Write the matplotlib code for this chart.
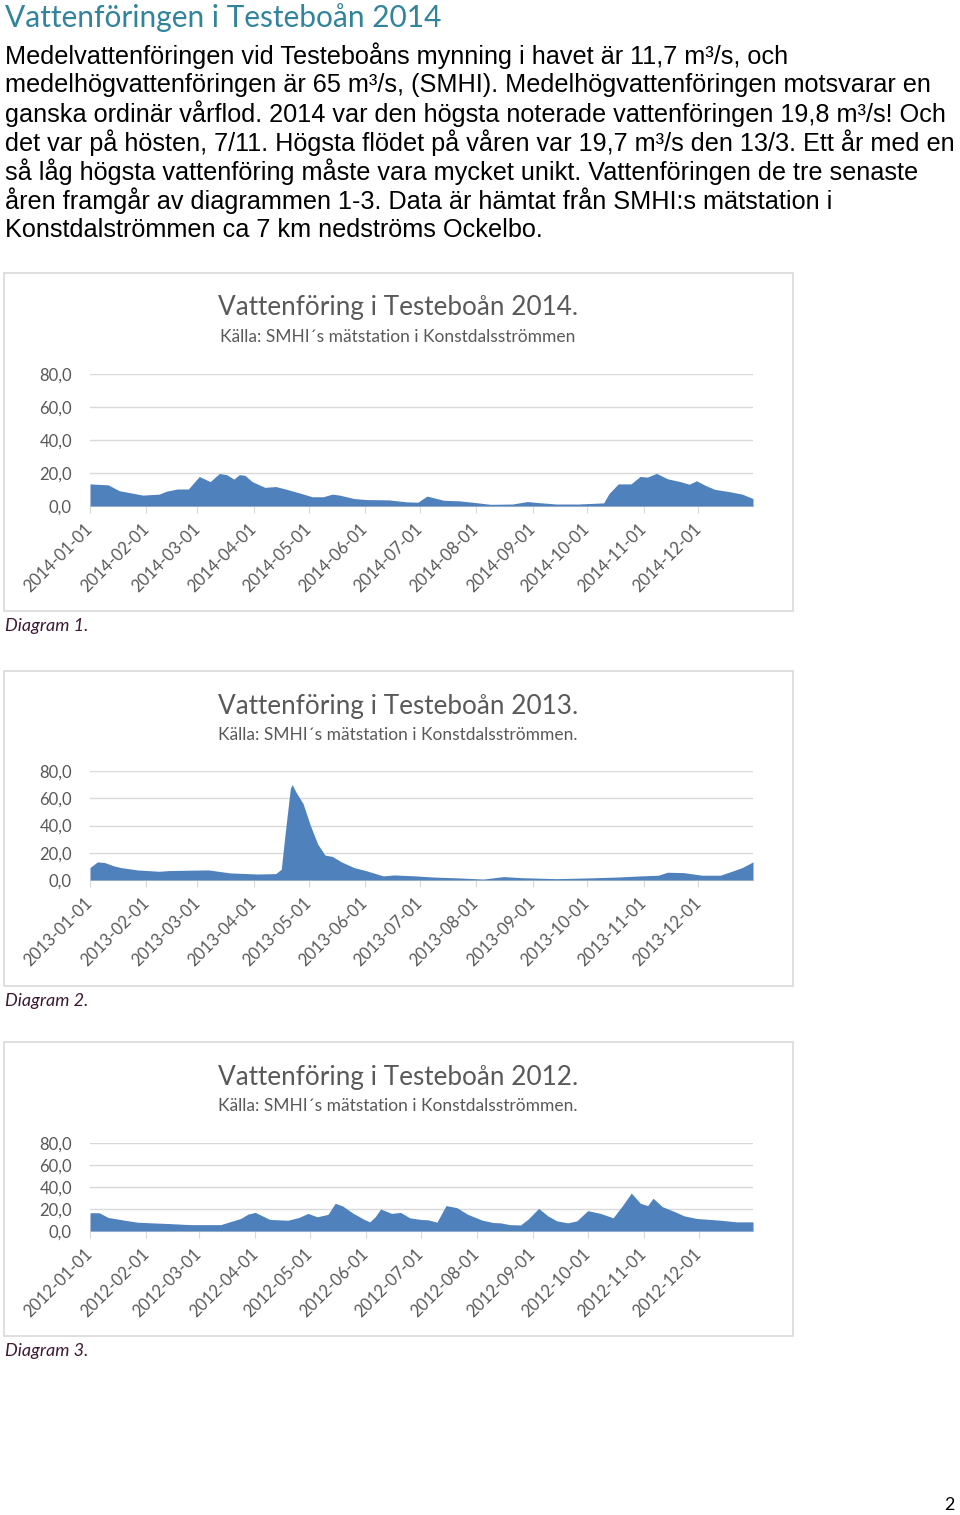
import numpy as np
import matplotlib.pyplot as plt
import matplotlib.dates as mdates
from matplotlib.patches import Rectangle
from matplotlib.ticker import FuncFormatter

# Daily flow (day of year, m3/s)
days_2014 = [0, 10, 16, 29, 38, 42, 48, 54, 60, 66, 71, 75, 79, 82, 85, 89, 96, 102, 108, 116,
             122, 128, 133, 137, 145, 152, 164, 174, 180, 185, 188, 194, 203, 213, 220, 232, 240, 246, 256, 268,
             282, 285, 290, 297, 302, 306, 311, 317, 324, 329, 333, 338, 343, 351, 358, 364]
flow_2014 = [13.4, 12.8, 9.3, 6.6, 7.2, 9.0, 10.3, 10.3, 17.9, 14.8, 19.7, 19.0, 16.3, 19.0, 18.6, 14.8, 11.3, 11.8, 10.1, 7.6,
             5.6, 5.6, 7.2, 6.6, 4.5, 3.9, 3.7, 2.5, 2.3, 6.0, 5.2, 3.5, 3.1, 1.9, 1.0, 1.2, 2.7, 2.1, 1.2, 1.2,
             1.9, 7.6, 13.4, 13.4, 17.9, 17.5, 19.8, 16.5, 14.8, 13.2, 15.3, 12.4, 10.1, 8.7, 7.2, 4.5]

days_2013 = [0, 4, 8, 13, 17, 26, 38, 43, 55, 65, 77, 92, 102, 105, 107, 110, 111, 113, 117, 121,
             125, 129, 133, 138, 145, 152, 161, 167, 179, 188, 203, 216, 227, 237, 256, 273, 290, 302, 312, 317,
             326, 336, 346, 353, 358, 364]
flow_2013 = [9.1, 13.3, 12.8, 10.4, 9.1, 7.4, 6.4, 6.9, 7.2, 7.4, 5.2, 4.4, 4.7, 7.9, 32.6, 67.2, 70.1, 64.7, 56.0, 40.0,
             26.4, 18.3, 17.3, 13.3, 9.1, 6.7, 3.0, 3.7, 3.0, 2.2, 1.5, 0.7, 2.5, 1.7, 1.0, 1.5, 2.2, 3.0, 3.5, 5.7,
             5.4, 3.5, 3.5, 6.7, 9.1, 13.3]

days_2012 = [0, 5, 10, 19, 26, 34, 43, 55, 72, 78, 83, 87, 91, 99, 109, 115, 120, 125, 131, 135,
             139, 145, 151, 154, 157, 160, 166, 171, 176, 182, 186, 191, 196, 202, 208, 216, 222, 226, 231, 237,
             241, 247, 252, 257, 263, 268, 274, 281, 288, 293, 298, 303, 307, 310, 315, 322, 327, 334, 347, 356, 365]
flow_2012 = [16.6, 16.6, 12.3, 9.8, 8.0, 7.4, 6.8, 5.8, 5.8, 8.9, 11.4, 15.4, 16.9, 10.5, 9.8, 12.3, 16.0, 12.9, 15.1, 25.2,
             22.8, 16.0, 10.5, 8.3, 12.9, 20.0, 16.0, 16.9, 12.0, 10.5, 10.2, 8.0, 23.1, 21.2, 15.1, 9.8, 7.7, 7.4, 5.8, 5.5,
             10.5, 20.6, 13.8, 9.2, 7.4, 9.2, 18.5, 16.0, 12.0, 22.8, 34.5, 25.2, 23.1, 29.8, 22.2, 17.5, 13.8, 11.4, 9.8, 8.3, 8.3]

y_ticks = [0, 20, 40, 60, 80]

page_title = "Vattenföringen i Testeboån 2014"
body_lines = [
    "Medelvattenföringen vid Testeboåns mynning i havet är 11,7 m³/s, och",
    "medelhögvattenföringen är 65 m³/s, (SMHI). Medelhögvattenföringen motsvarar en",
    "ganska ordinär vårflod. 2014 var den högsta noterade vattenföringen 19,8 m³/s! Och",
    "det var på hösten, 7/11. Högsta flödet på våren var 19,7 m³/s den 13/3. Ett år med en",
    "så låg högsta vattenföring måste vara mycket unikt. Vattenföringen de tre senaste",
    "åren framgår av diagrammen 1-3. Data är hämtat från SMHI:s mätstation i",
    "Konstdalströmmen ca 7 km nedströms Ockelbo.",
]

W, H = 960, 1515
fig = plt.figure(figsize=(W / 100, H / 100), dpi=100)

CAL = "Lato"
GREY = "#595959"
BLUE = "#4F81BD"
LIGHT = "#D9D9D9"


def ftext(x, y, s, **kw):
    fig.text(x / W, 1 - y / H, s, **kw)


def frame(x0, y0, x1, y1):
    fig.patches.append(Rectangle((x0 / W, 1 - y1 / H), (x1 - x0) / W, (y1 - y0) / H,
                                 transform=fig.transFigure, fill=False,
                                 edgecolor=LIGHT, linewidth=1.2))


# page heading and text
ftext(5, 18, page_title, fontsize=21.5, color="#31849B", family=CAL,
      va="center", ha="left")
for i, line in enumerate(body_lines):
    ftext(5, 56 + 29 * i, line, fontsize=18.2, family="Liberation Sans",
          color="black", va="center", ha="left")

charts = [
    # year, days, flow, frame (x0,y0,x1,y1), plot top, plot bottom, subtitle, caption
    (2014, days_2014, flow_2014, (4, 273, 793, 611), 374, 506,
     "Källa: SMHI´s mätstation i Konstdalsströmmen", "Diagram 1.", 626),
    (2013, days_2013, flow_2013, (4, 671, 793, 986), 771, 880,
     "Källa: SMHI´s mätstation i Konstdalsströmmen.", "Diagram 2.", 1001),
    (2012, days_2012, flow_2012, (4, 1042, 793, 1336), 1143, 1231,
     "Källa: SMHI´s mätstation i Konstdalsströmmen.", "Diagram 3.", 1351),
]

for year, days, flow, box, ytop, ybot, sub, cap, capy in charts:
    frame(*box)
    ftext(398, box[1] + 35, f"Vattenföring i Testeboån {year}.", fontsize=18.8,
          family=CAL, color=GREY, ha="center", va="center")
    ftext(398, box[1] + 64, sub, fontsize=12.5, family=CAL, color=GREY,
          ha="center", va="center")
    ftext(5, capy, cap, fontsize=13, family=CAL, style="italic",
          color="#3F1A33", ha="left", va="center")

    ax = fig.add_axes([90 / W, 1 - ybot / H, (753 - 90) / W, (ybot - ytop) / H])
    start = np.datetime64(f"{year}-01-01")
    x = start + np.array(days).astype("timedelta64[D]")
    ax.fill_between(x, 0, flow, color=BLUE, linewidth=0)
    ax.set_xlim(start, np.datetime64(f"{year}-12-31"))
    ax.set_ylim(0, 80)
    ax.set_yticks(y_ticks)
    ax.yaxis.set_major_formatter(FuncFormatter(lambda v, p: f"{v:.1f}".replace(".", ",")))
    ax.grid(axis="y", color=LIGHT, linewidth=1)
    ax.set_axisbelow(True)
    for s in ["top", "right", "left"]:
        ax.spines[s].set_visible(False)
    ax.spines["bottom"].set_color(LIGHT)
    ax.spines["bottom"].set_zorder(0)
    ax.xaxis.set_major_locator(mdates.MonthLocator())
    ax.xaxis.set_major_formatter(mdates.DateFormatter("%Y-%m-%d"))
    ax.tick_params(axis="y", length=0, pad=13, labelsize=12, labelcolor=GREY)
    ax.tick_params(axis="x", length=5, color=LIGHT, pad=10, labelsize=12, labelcolor=GREY)
    for lab in ax.get_yticklabels() + ax.get_xticklabels():
        lab.set_family(CAL)
    for lab in ax.get_xticklabels():
        lab.set_rotation(45)
        lab.set_ha("right")
        lab.set_va("center")
        lab.set_rotation_mode("anchor")

ftext(955, 1505, "2", fontsize=13, family=CAL, color="black", ha="right", va="center")

fig.savefig("out.png", dpi=100)
